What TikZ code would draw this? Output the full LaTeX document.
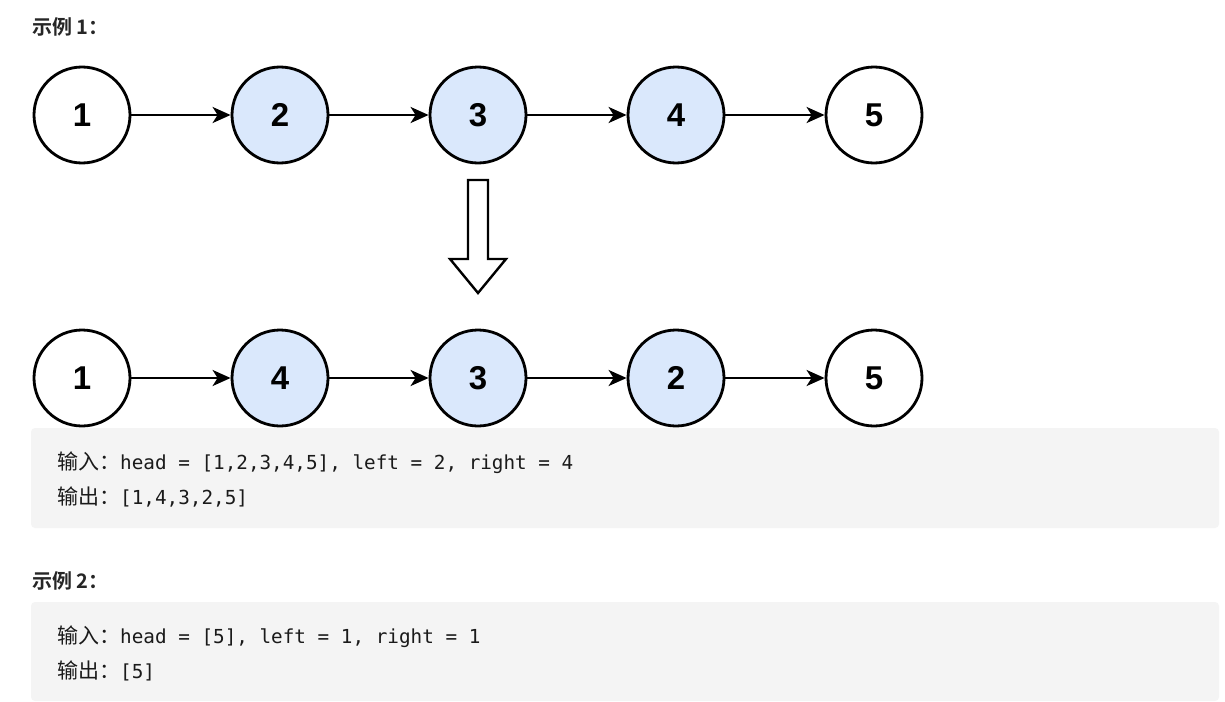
\documentclass[tikz,border=0pt]{standalone}
\usepackage{fontspec}
\setmainfont{Liberation Sans}
\newfontfamily\cjk{Noto Sans CJK SC}
\newfontfamily\cjkbold{Noto Sans CJK SC Bold}
\newfontfamily\mono{DejaVu Sans Mono}
\usetikzlibrary{arrows.meta}
\definecolor{nodeblue}{HTML}{DAE8FC}
\definecolor{codebg}{HTML}{F4F4F4}
\definecolor{codefg}{HTML}{1A1A1A}
\definecolor{hdrfg}{HTML}{262626}
\begin{document}
\begin{tikzpicture}[x=1pt,y=-1pt,
  lnode/.style={circle,draw=black,line width=2.8pt,minimum size=96pt,inner sep=0pt,
    font=\fontsize{33}{36}\selectfont\bfseries},
  bnode/.style={lnode,fill=nodeblue},
  wnode/.style={lnode,fill=white},
  link/.style={line width=2.4pt,-{Stealth[length=18pt,width=16pt,inset=5pt]}},
  codebox/.style={fill=codebg,rounded corners=4pt},
  hdr/.style={anchor=base west,inner sep=0pt,text=hdrfg,font=\cjkbold\fontsize{20}{22}\selectfont},
  codeline/.style={anchor=base west,inner sep=0pt,text=codefg},
]
\useasboundingbox (0,0) rectangle (1225,701);
\fill[fill=white] (0,0) rectangle (1225,701);

\node[hdr] (h1) at (32,35) {示例 1：};

% row 1
\node[wnode] (a1) at (82,115) {1};
\node[bnode] (a2) at (280,115) {2};
\node[bnode] (a3) at (478,115) {3};
\node[bnode] (a4) at (676,115) {4};
\node[wnode] (a5) at (874,115) {5};
\draw[link] (a1) -- (a2);
\draw[link] (a2) -- (a3);
\draw[link] (a3) -- (a4);
\draw[link] (a4) -- (a5);

% hollow arrow
\draw[line width=2.4pt,line join=miter,fill=white] (468,180) -- (488,180) -- (488,259) -- (506,259)
  -- (478,293) -- (450,259) -- (468,259) -- cycle;

% row 2
\node[wnode] (b1) at (82,378) {1};
\node[bnode] (b2) at (280,378) {4};
\node[bnode] (b3) at (478,378) {3};
\node[bnode] (b4) at (676,378) {2};
\node[wnode] (b5) at (874,378) {5};
\draw[link] (b1) -- (b2);
\draw[link] (b2) -- (b3);
\draw[link] (b3) -- (b4);
\draw[link] (b4) -- (b5);

% example 1 code
\fill[codebox] (31,428) rectangle (1219,528);
\node[codeline] (c1) at (57,469) {{\cjk\fontsize{21}{24}\selectfont 输入：}{\mono\fontsize{19.3}{22}\selectfont head = [1,2,3,4,5], left = 2, right = 4}};
\node[codeline] (c2) at (57,504) {{\cjk\fontsize{21}{24}\selectfont 输出：}{\mono\fontsize{19.3}{22}\selectfont [1,4,3,2,5]}};

\node[hdr] (h2) at (32,588) {示例 2：};

% example 2 code
\fill[codebox] (31,602) rectangle (1219,701);
\node[codeline] (d1) at (57,643) {{\cjk\fontsize{21}{24}\selectfont 输入：}{\mono\fontsize{19.3}{22}\selectfont head = [5], left = 1, right = 1}};
\node[codeline] (d2) at (57,678) {{\cjk\fontsize{21}{24}\selectfont 输出：}{\mono\fontsize{19.3}{22}\selectfont [5]}};
\end{tikzpicture}
\end{document}
